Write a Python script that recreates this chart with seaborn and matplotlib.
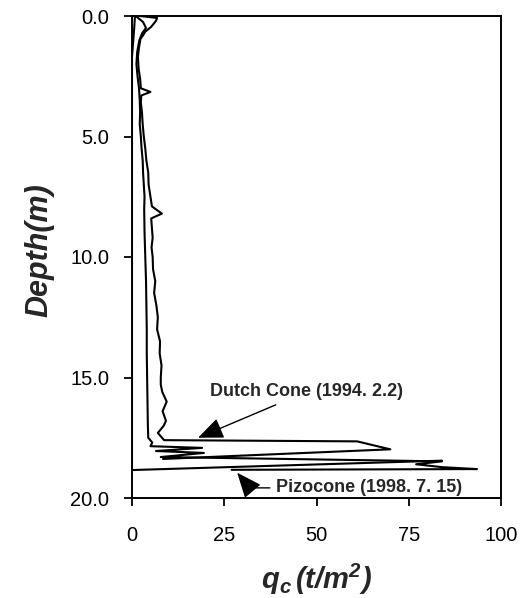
import matplotlib
matplotlib.use("Agg")
import matplotlib.pyplot as plt
import seaborn as sns
import pandas as pd

# Dutch cone sounding (1994. 2.2): depth (m) and cone resistance q_c (t/m^2)
dutch_depth = [0.0, 0.08, 0.2, 0.45, 0.65, 0.8, 0.95, 1.3, 1.7, 2.2, 2.6, 3.0, 3.15, 3.3,
               3.6, 4.0, 4.5, 5.0, 5.5, 6.0, 6.5, 7.0, 7.5, 7.9, 8.2, 8.4, 8.8, 9.2, 9.6,
               10.0, 10.5, 11.0, 11.5, 12.0, 12.5, 13.0, 13.5, 14.0, 14.5, 15.0, 15.3,
               15.6, 16.0, 16.4, 16.8, 17.0, 17.3, 17.6, 17.65, 17.98, 18.38]
dutch_qc = [2.2, 6.8, 6.5, 5.2, 3.6, 3.0, 2.3, 1.9, 1.6, 1.8, 2.2, 2.4, 5.0, 2.5,
            2.4, 2.7, 2.9, 3.2, 3.6, 3.9, 4.4, 4.5, 5.0, 5.4, 8.1, 5.2, 5.4, 5.6, 5.3,
            5.6, 5.7, 6.3, 6.0, 6.6, 7.0, 6.8, 7.6, 7.5, 8.0, 7.8, 7.8,
            8.2, 9.4, 8.3, 9.2, 8.6, 7.0, 8.7, 61.0, 70.0, 8.4]

# Piezocone sounding (1998. 7. 15)
pizo_depth = [0.0, 0.25, 0.5, 0.7, 1.0, 1.5, 2.0, 2.5, 3.0, 3.5, 4.0, 4.5, 5.0, 5.5,
              6.0, 6.5, 7.0, 7.5, 8.0, 9.0, 10.0, 11.0, 12.0, 13.0, 14.0, 15.0, 16.0,
              17.0, 17.5, 17.7, 17.85, 17.92, 18.05, 18.13, 18.3, 18.48, 18.6, 18.72,
              18.8, 18.83]
pizo_qc = [1.0, 3.0, 3.8, 2.8, 2.0, 1.4, 1.2, 1.5, 1.9, 2.1, 2.2, 2.1, 2.4, 2.6,
           2.9, 3.0, 3.2, 3.4, 3.3, 3.4, 3.6, 3.8, 3.9, 4.0, 4.0, 4.1, 4.2,
           4.3, 4.4, 5.5, 5.0, 19.0, 6.5, 19.5, 7.8, 84.0, 77.0, 84.0,
           93.5, 27.0]

# Companion trace recorded along the axis origin
base_depth = [0.0, 0.5, 1.7, 18.84, 18.45]
base_qc = [0.8, 0.6, 0.0, 0.0, 84.0]

x_ticks = [0, 25, 50, 75, 100]
y_ticks = [0.0, 5.0, 10.0, 15.0, 20.0]
y_tick_labels = ["0.0", "5.0", "10.0", "15.0", "20.0"]

sns.set_style("ticks")
plt.rcParams["font.family"] = ["Liberation Sans", "DejaVu Sans"]
plt.rcParams["mathtext.fontset"] = "custom"
plt.rcParams["mathtext.bfit"] = "Liberation Sans:bold:italic"
plt.rcParams["mathtext.it"] = "Liberation Sans:italic"
plt.rcParams["mathtext.bf"] = "Liberation Sans:bold"
plt.rcParams["mathtext.rm"] = "Liberation Sans"

fig = plt.figure(figsize=(5.2, 5.98), dpi=100)
ax = fig.add_axes([132 / 520, 1 - 498 / 598, 369 / 520, 482 / 598])

frames = [
    pd.DataFrame({"depth": dutch_depth, "qc": dutch_qc}),
    pd.DataFrame({"depth": pizo_depth, "qc": pizo_qc}),
    pd.DataFrame({"depth": base_depth, "qc": base_qc}),
]
for df in frames:
    sns.lineplot(data=df, x="qc", y="depth", sort=False, estimator=None,
                 color="black", linewidth=1.5, ax=ax)

ax.set_xlim(0, 100)
ax.set_ylim(20, 0)
ax.set_xticks(x_ticks)
ax.set_xticklabels([str(t) for t in x_ticks])
ax.set_yticks(y_ticks)
ax.set_yticklabels(y_tick_labels)
ax.tick_params(axis="both", direction="out", length=5.5, width=1.3, colors="black",
               labelsize=14.5)
ax.tick_params(axis="y", pad=11)
ax.tick_params(axis="x", pad=15)
for s in ax.spines.values():
    s.set_color("black")
    s.set_linewidth(1.4)

ax.set_xlabel(r"$\mathbfit{q_c\,(t/m^2)}$", fontsize=21, labelpad=12)
ax.set_ylabel("Depth(m)", fontsize=22, fontweight="bold", fontstyle="italic")
ax.yaxis.set_label_coords(-0.21, 0.515)

arrow_kw = dict(arrowstyle="-|>,head_length=1.2,head_width=0.5", color="black",
                linewidth=1.0, shrinkA=2, shrinkB=0)

ax.annotate("Dutch Cone (1994. 2.2)", xy=(17.9, 17.5), xytext=(47.2, 15.6),
            ha="center", va="center", fontsize=13, fontweight="bold",
            arrowprops=dict(**arrow_kw))

ax.annotate("Pizocone (1998. 7. 15)", xy=(28.5, 18.95), xytext=(39.0, 19.58),
            ha="left", va="center", fontsize=13, fontweight="bold",
            arrowprops=dict(**arrow_kw,
                            connectionstyle="angle,angleA=0,angleB=130,rad=0"),
            annotation_clip=False)

sns.despine(ax=ax, top=False, right=False)
fig.savefig("out.png", dpi=100)
